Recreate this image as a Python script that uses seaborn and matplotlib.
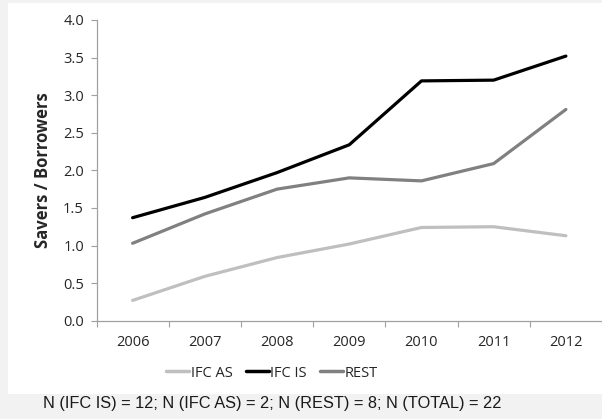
import seaborn as sns
import matplotlib.pyplot as plt
import matplotlib.patches as mpatches
import numpy as np
import pandas as pd

years = ['2006', '2007', '2008', '2009', '2010', '2011', '2012']
ifc_as = [0.27, 0.59, 0.84, 1.02, 1.24, 1.25, 1.13]
ifc_is = [1.37, 1.64, 1.97, 2.34, 3.19, 3.20, 3.52]
rest = [1.03, 1.42, 1.75, 1.90, 1.86, 2.09, 2.81]
series_names = ['IFC AS', 'IFC IS', 'REST']
colors = ['#bfbfbf', '#000000', '#808080']

df = pd.DataFrame({'year': years * 3,
                   'value': ifc_as + ifc_is + rest,
                   'series': [n for n in series_names for _ in years]})

sns.set_style('white')
plt.rcParams['font.family'] = ['Open Sans', 'DejaVu Sans']

fig = plt.figure(figsize=(6.02, 4.19), dpi=100)
fig.patch.set_facecolor('#f2f2f2')
fig.patches.append(mpatches.Rectangle((8 / 602, 1 - 394 / 419), 1 - 8 / 602, (394 - 3) / 419,
                                      transform=fig.transFigure, facecolor='white',
                                      edgecolor='none', zorder=-5))

ax = fig.add_axes([96.5 / 602, 1 - 320.7 / 419, 1 - 96.5 / 602, (320.7 - 20) / 419])
ax.set_zorder(2)
ax.set_facecolor('none')
sns.lineplot(data=df, x='year', y='value', hue='series', palette=colors,
             linewidth=2.3, ax=ax, legend=False)

ax.set_xlim(-0.5, 6.5)
ax.set_ylim(0, 4.0)
ax.set_yticks(np.arange(0, 4.01, 0.5))
ax.set_yticklabels([f'{v:.1f}' for v in np.arange(0, 4.01, 0.5)], fontsize=10.5, color='#262626')
ax.set_xticks(range(len(years)))
ax.set_xticklabels(years, fontsize=10.5, color='#262626')
ax.set_xticks(np.arange(-0.5, 6.6, 1.0), minor=True)
ax.tick_params(axis='x', which='major', length=0, pad=10)
ax.tick_params(axis='x', which='minor', length=4, color='#a0a0a0', width=0.8, direction='out', bottom=True)
ax.tick_params(axis='y', length=4, color='#a0a0a0', width=0.8, direction='out', left=True, pad=5)
for s in ['top', 'right']:
    ax.spines[s].set_visible(False)
for s in ['left', 'bottom']:
    ax.spines[s].set_color('#a0a0a0')
    ax.spines[s].set_linewidth(0.9)
ax.set_xlabel('')
ax.set_ylabel('Savers / Borrowers', fontsize=12, fontweight='bold', labelpad=8)

handles = [plt.Line2D([], [], color=c, linewidth=2.5) for c in colors]
leg = fig.legend(handles, series_names, loc='center', bbox_to_anchor=(272 / 602, 1 - 373 / 419),
                 ncol=3, frameon=False, fontsize=10.5, handlelength=1.6, handletextpad=0.1,
                 columnspacing=0.9)
leg.set_zorder(3)

fig.text(272 / 602, 1 - 403 / 419, 'N (IFC IS) = 12; N (IFC AS) = 2; N (REST) = 8; N (TOTAL) = 22',
         ha='center', va='center', fontsize=11.8, color='#1a1a1a',
         family=['Liberation Sans', 'DejaVu Sans'], zorder=3)

fig.savefig('out.png', dpi=100, facecolor=fig.get_facecolor())
